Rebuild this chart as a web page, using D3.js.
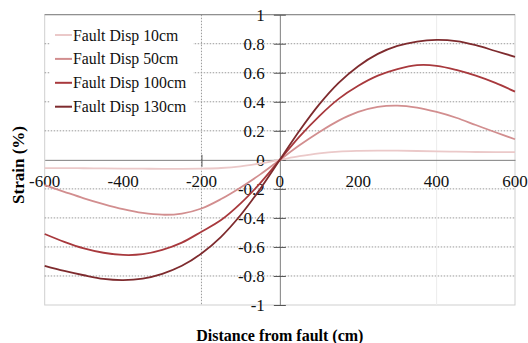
<!DOCTYPE html>
<html>
<head>
	<meta charset="UTF-8">
	<script src="https://d3js.org/d3.v7.min.js"></script>
	<title>Strain vs distance</title>
	<style>
		body { margin: 0; background: #fff; }
	</style>
</head>
<body>
	<svg></svg>
	<script type="text/javascript">
		const width = 528;
		const height = 343;
		const margin = ({top: 14.7, right: 13, bottom: 38, left: 44.7});

		// distance from fault (cm)
		const distances = [-600, -550, -500, -450, -400, -350, -300, -250, -200, -150, -100, -50, 0,
			50, 100, 150, 200, 250, 300, 350, 400, 450, 500, 550, 600];

		const seriesNames = ["Fault Disp 10cm", "Fault Disp 50cm", "Fault Disp 100cm", "Fault Disp 130cm"];
		const seriesColors = ["#ebc9c9", "#d28e8f", "#a8393d", "#7e2b2e"];

		// strain (%)
		const disp10 = [-0.057, -0.057, -0.058, -0.059, -0.06, -0.061, -0.062, -0.062, -0.06, -0.056, -0.045, -0.025, 0,
			0.025, 0.045, 0.057, 0.062, 0.064, 0.063, 0.061, 0.058, 0.056, 0.054, 0.053, 0.053];
		const disp50 = [-0.174, -0.22, -0.265, -0.305, -0.34, -0.366, -0.378, -0.37, -0.335, -0.27, -0.19, -0.1, 0,
			0.1, 0.19, 0.27, 0.33, 0.365, 0.374, 0.36, 0.33, 0.29, 0.24, 0.19, 0.142];
		const disp100 = [-0.511, -0.565, -0.61, -0.64, -0.655, -0.65, -0.62, -0.57, -0.495, -0.415, -0.3, -0.16, 0,
			0.16, 0.3, 0.42, 0.51, 0.58, 0.625, 0.652, 0.648, 0.62, 0.58, 0.53, 0.47];
		const disp130 = [-0.73, -0.765, -0.795, -0.82, -0.828, -0.818, -0.785, -0.73, -0.645, -0.53, -0.38, -0.2, 0,
			0.2, 0.38, 0.53, 0.645, 0.73, 0.785, 0.815, 0.826, 0.818, 0.79, 0.75, 0.71];

		const xTicks = [-600, -400, -200, 0, 200, 400, 600];
		const yTicks = [-1, -0.8, -0.6, -0.4, -0.2, 0, 0.2, 0.4, 0.6, 0.8, 1];

		const series = [disp10, disp50, disp100, disp130].map((vals, i) => ({
			name: seriesNames[i],
			color: seriesColors[i],
			values: vals.map((v, j) => ({x: distances[j], y: v}))
		}));

		const x = d3.scaleLinear()
			.domain([-600, 600])
			.range([margin.left, width - margin.right]);

		const y = d3.scaleLinear()
			.domain([-1, 1])
			.range([height - margin.bottom, margin.top]);

		const svg = d3.select("svg")
			.attr("width", width)
			.attr("height", height)
			.attr("viewBox", [0, 0, width, height])
			.attr("font-family", "'Liberation Serif', 'DejaVu Serif', serif");

		// plot area border
		svg.append("rect")
			.attr("x", x(-600))
			.attr("y", y(1))
			.attr("width", x(600) - x(-600))
			.attr("height", y(-1) - y(1))
			.attr("fill", "none")
			.attr("stroke", "#cfcfcf");

		// gridlines
		svg.append("g")
			.attr("stroke", "#9a9a9a")
			.attr("stroke-dasharray", "1.5,1.5")
			.selectAll("line")
			.data(yTicks.filter(d => d !== 0 && Math.abs(d) !== 1))
			.join("line")
			.attr("x1", x(-600))
			.attr("x2", x(600))
			.attr("y1", d => y(d))
			.attr("y2", d => y(d));

		svg.append("line")
			.attr("x1", x(-200)).attr("x2", x(-200))
			.attr("y1", y(1)).attr("y2", y(-1))
			.attr("stroke", "#9a9a9a")
			.attr("stroke-dasharray", "1.5,1.5");

		svg.append("line")
			.attr("x1", x(400)).attr("x2", x(400))
			.attr("y1", y(1)).attr("y2", y(-1))
			.attr("stroke", "#ececec");

		svg.append("line")
			.attr("x1", x(-600)).attr("x2", x(600))
			.attr("y1", y(1)).attr("y2", y(1))
			.attr("stroke", "#7f7f7f");

		// axes through zero
		const xAxis = g => g
			.attr("transform", `translate(0,${y(0)})`)
			.call(d3.axisBottom(x).tickValues([-200]).tickSize(0).tickFormat(""))
			.call(g => g.select(".domain").attr("stroke", "#7f7f7f"))
			.call(g => g.selectAll(".tick line").attr("y1", -5).attr("y2", 7).attr("stroke", "#555"));

		const yAxis = g => g
			.attr("transform", `translate(${x(0)},0)`)
			.call(d3.axisLeft(y).tickValues(yTicks).tickSize(0).tickFormat(""))
			.call(g => g.select(".domain").attr("stroke", "#7f7f7f"))
			.call(g => g.selectAll(".tick line").attr("x1", -6).attr("x2", 6).attr("stroke", "#555"));

		svg.append("g").call(xAxis);
		svg.append("g").call(yAxis);

		// tick labels
		svg.append("g")
			.attr("font-size", 17)
			.attr("fill", "#111")
			.attr("text-anchor", "end")
			.selectAll("text")
			.data(yTicks)
			.join("text")
			.attr("x", x(0) - 15)
			.attr("y", d => y(d))
			.attr("dy", "0.35em")
			.text(d => d);

		svg.append("g")
			.attr("font-size", 17)
			.attr("fill", "#111")
			.attr("text-anchor", "middle")
			.selectAll("text")
			.data(xTicks)
			.join("text")
			.attr("x", d => x(d))
			.attr("y", y(0) + 21)
			.attr("dy", "0.35em")
			.text(d => d);

		// legend (white box over gridlines)
		const legend = svg.append("g");
		legend.append("rect")
			.attr("x", 50).attr("y", 22)
			.attr("width", 143).attr("height", 96)
			.attr("fill", "#fff");

		const rows = legend.selectAll("g")
			.data(series)
			.join("g")
			.attr("transform", (d, i) => `translate(55,${35 + i * 23.9})`);
		rows.append("line")
			.attr("x1", 0).attr("x2", 17)
			.attr("stroke", d => d.color)
			.attr("stroke-width", 2);
		rows.append("text")
			.attr("x", 18)
			.attr("dy", "0.35em")
			.attr("font-size", 15.8)
			.attr("fill", "#111")
			.text(d => d.name);

		// series lines
		const line = d3.line()
			.x(d => x(d.x))
			.y(d => y(d.y))
			.curve(d3.curveCatmullRom);

		svg.append("g")
			.attr("fill", "none")
			.attr("stroke-width", 1.8)
			.selectAll("path")
			.data(series)
			.join("path")
			.attr("stroke", d => d.color)
			.attr("d", d => line(d.values));

		// axis titles
		svg.append("text")
			.attr("x", x(0))
			.attr("y", 335)
			.attr("dy", "0.35em")
			.attr("text-anchor", "middle")
			.attr("font-weight", "bold")
			.attr("font-size", 16)
			.text("Distance from fault (cm)");

		svg.append("text")
			.attr("transform", `translate(18,${165}) rotate(-90)`)
			.attr("dy", "0.35em")
			.attr("text-anchor", "middle")
			.attr("font-weight", "bold")
			.attr("font-size", 17)
			.text("Strain (%)");
	</script>
</body>
</html>
